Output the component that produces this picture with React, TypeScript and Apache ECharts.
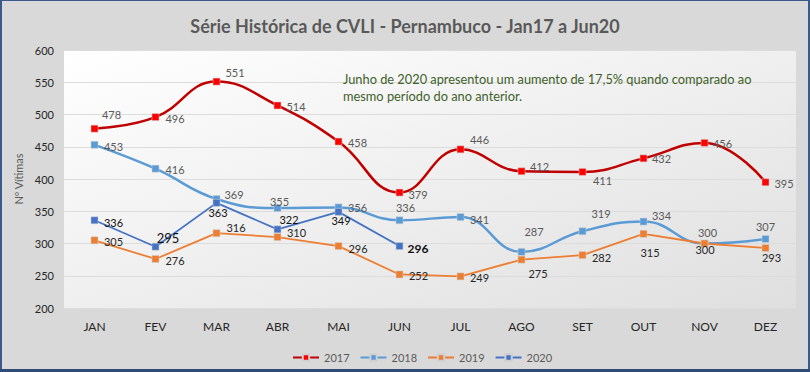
import React, { useEffect, useRef } from "react";
import * as echarts from "echarts";

const months = ["JAN", "FEV", "MAR", "ABR", "MAI", "JUN", "JUL", "AGO", "SET", "OUT", "NOV", "DEZ"];
const v2017 = [478, 496, 551, 514, 458, 379, 446, 412, 411, 432, 456, 395];
const v2018 = [453, 416, 369, 355, 356, 336, 341, 287, 319, 334, 300, 307];
const v2019 = [305, 276, 316, 310, 296, 252, 249, 275, 282, 315, 300, 293];
const v2020 = [336, 295, 363, 322, 349, 296];
const yTicks = { min: 200, max: 600, interval: 50 };

// label offsets (style only)
const off2017 = [[17, -14], [19.5, 1], [18.5, -9], [18.5, 1.5], [19, 1], [18.5, 1.5], [19, -10], [18, -5], [20, 9], [18, 0.5], [18, 1], [18.5, 1]];
const off2018 = [[19, 2], [19.5, 1], [17.5, -4], [2, -7], [19, 0], [6, -13], [19, 2], [12.5, -20], [18.5, -18], [18, -6], [3, -11.5], [0, -12]];
const off2019 = [[19, 1], [19.5, 2], [19.5, -6], [19, -5], [19.5, 2], [19, 1.5], [19, 1.5], [16.5, 13.5], [19, 2], [6.5, 19], [0.5, 5.5], [6, 9]];
const off2020 = [[19, 2], [12.5, -9], [1.5, 10], [11.5, -10], [2.5, 9], [18.5, 2]];

const FONT = "Lato";

function withLabels(vals: number[], offs: number[][], color: string, extra?: (i: number) => any) {
  return vals.map((v, i) => ({
    value: v,
    label: {
      show: true,
      position: "inside",
      offset: offs[i],
      color,
      fontFamily: FONT,
      fontSize: 11,
      ...(extra ? extra(i) : {}),
    },
  }));
}

export default function App() {
  const ref = useRef<HTMLDivElement>(null);
  useEffect(() => {
    if (!ref.current) return;
    const chart = echarts.init(ref.current, undefined, { renderer: "svg" });
    const lineSeries = (name: string, data: any[], lineColor: string, markColor: string, width: number, smooth: any) => ({
      name,
      type: "line",
      data,
      smooth,
      symbol: "rect",
      symbolSize: 7,
      lineStyle: { color: lineColor, width },
      itemStyle: { color: markColor, borderColor: "#D0D0D0", borderWidth: 0.5 },
      emphasis: { disabled: true },
    });
    chart.setOption({
      animation: false,
      backgroundColor: "#D9D9D9",
      title: {
        text: "Série Histórica de CVLI - Pernambuco - Jan17 a Jun20",
        left: "center",
        top: 12,
        textStyle: { fontFamily: FONT, fontSize: 18, fontWeight: "bold", color: "#595959" },
      },
      grid: {
        left: 64,
        right: 14,
        top: 50,
        bottom: 64,
        show: true,
        borderWidth: 0,
        backgroundColor: new echarts.graphic.LinearGradient(0, 0, 1, 1, [
          { offset: 0, color: "#FFFFFF" },
          { offset: 1, color: "#DFDFDF" },
        ]),
      },
      legend: {
        left: 287,
        top: 347,
        itemWidth: 26,
        itemHeight: 8,
        itemGap: 10,
        textStyle: { fontFamily: FONT, fontSize: 11, color: "#595959" },
        data: ["2017", "2018", "2019", "2020"],
      },
      xAxis: {
        type: "category",
        data: months,
        boundaryGap: true,
        axisLine: { show: false },
        axisTick: { show: false },
        axisLabel: { color: "#262626", fontFamily: FONT, fontSize: 12, margin: 12 },
      },
      yAxis: {
        type: "value",
        min: yTicks.min,
        max: yTicks.max,
        interval: yTicks.interval,
        name: "Nº Vítimas",
        nameLocation: "middle",
        nameRotate: 90,
        nameGap: 34,
        nameTextStyle: { fontFamily: FONT, fontSize: 11, color: "#595959" },
        axisLine: { show: false },
        axisTick: { show: false },
        axisLabel: { color: "#262626", fontFamily: FONT, fontSize: 11, margin: 10 },
        splitLine: { lineStyle: { color: "#DCDCDC", width: 1 } },
      },
      graphic: [
        {
          type: "text",
          left: 343,
          top: 70,
          z: 10,
          style: {
            text: "Junho de 2020 apresentou um aumento de 17,5% quando comparado ao\nmesmo período do ano anterior.",
            fontFamily: FONT,
            fontSize: 12.8,
            lineHeight: 17,
            fill: "#3F6129",
          },
        },
        { type: "rect", left: 0, top: 0, z: 20, shape: { width: 2, height: 372 }, style: { fill: "#3A5A8E" } },
        { type: "rect", left: 808, top: 0, z: 20, shape: { width: 2, height: 372 }, style: { fill: "#3A5A8E" } },
        { type: "rect", left: 0, top: 0, z: 20, shape: { width: 810, height: 1 }, style: { fill: "#3A5A8E" } },
        { type: "rect", left: 0, top: 369, z: 20, shape: { width: 810, height: 3 }, style: { fill: "#2F4B78" } },
      ],
      series: [
        lineSeries("2017", withLabels(v2017, off2017, "#595959"), "#C00000", "#FF0000", 2.5, 0.45),
        lineSeries("2018", withLabels(v2018, off2018, "#595959"), "#5B9BD5", "#5B9BD5", 2.5, 0.45),
        lineSeries("2019", withLabels(v2019, off2019, "#262626"), "#ED7D31", "#ED7D31", 1.8, false),
        lineSeries(
          "2020",
          withLabels(v2020, off2020, "#111111", (i) =>
            i === 1 ? { fontSize: 13 } : i === 5 ? { fontWeight: "bold", fontSize: 12 } : {}
          ),
          "#4472C4",
          "#4472C4",
          1.8,
          false
        ),
      ],
    });
    return () => chart.dispose();
  }, []);
  return (
    <div
      ref={ref}
      style={{ position: "fixed", left: 0, top: 0, width: 810, height: 372 }}
    />
  );
}
